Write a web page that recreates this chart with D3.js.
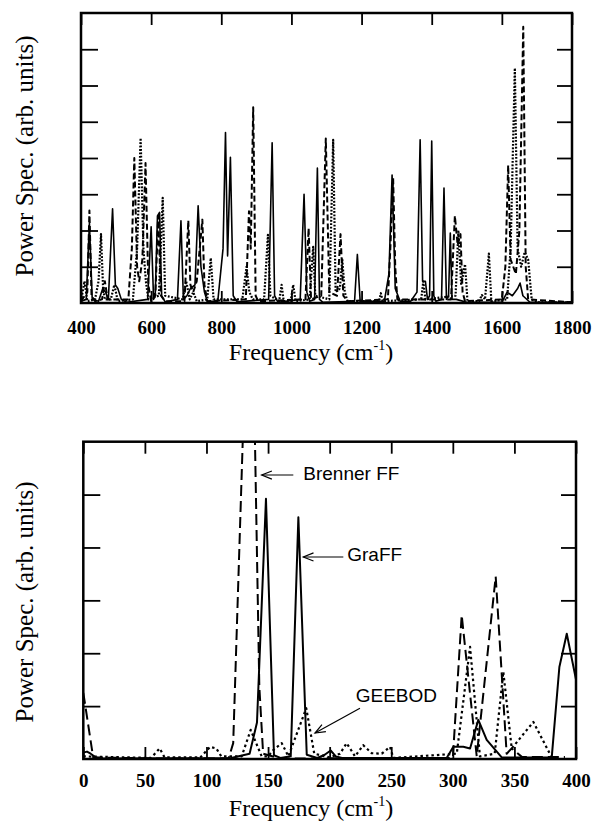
<!DOCTYPE html>
<html>
<head>
<meta charset="utf-8">
<script src="https://cdn.jsdelivr.net/npm/d3@7"></script>
<style>
  body { margin: 0; background: #fff; }
  svg { display: block; }
  .serif { font-family: "Liberation Serif", "Times New Roman", "DejaVu Serif", serif; }
  .sans { font-family: "Liberation Sans", Arial, sans-serif; }
</style>
</head>
<body>
<svg id="chart"></svg>
<script>
// ---- top panel: 400-1800 cm-1, three spectra as [frequency, power] ----
const topSolid = [[400,0.05],[415,0.1],[424,2.2],[432,0.1],[450,0.05],[462,0.4],[470,0.3],[478,0.1],[490,2.6],[498,0.5],[505,0.4],[515,0.1],[530,0.02],[590,0.1],[600,2.1],[607,0.1],[612,0.3],[618,2.4],[624,2.5],[630,0.2],[640,0.03],[675,0.1],[685,2.27],[692,0.1],[702,0.2],[712,0.4],[725,0.5],[734,2.68],[742,1.0],[752,0.3],[760,0.05],[790,0.05],[805,1.5],[812,4.7],[818,1.3],[826,4.02],[834,0.2],[845,0.03],[935,0.1],[945,4.42],[952,0.2],[962,0.02],[1025,0.1],[1036,3.0],[1044,0.3],[1052,0.05],[1066,0.1],[1074,3.72],[1080,0.1],[1090,0.02],[1180,0.05],[1188,1.34],[1196,0.05],[1265,0.05],[1278,0.8],[1287,3.53],[1296,0.4],[1310,0.05],[1340,0.05],[1358,0.3],[1367,4.5],[1374,0.6],[1382,0.6],[1388,0.1],[1394,0.2],[1400,4.47],[1406,0.2],[1412,0.05],[1428,0.1],[1435,3.17],[1442,0.1],[1448,0.2],[1453,1.93],[1458,0.1],[1470,0.1],[1500,0.02],[1600,0.02],[1615,0.3],[1630,0.2],[1645,0.4],[1652,0.55],[1660,0.2],[1680,0.02],[1800,0.02]];
const topDashed = [[400,0.05],[418,0.3],[424,2.55],[430,0.2],[440,0.05],[460,0.1],[468,0.6],[476,0.1],[535,0.1],[545,1.5],[552,4.0],[560,1.0],[566,0.6],[575,1.2],[584,3.86],[592,0.5],[600,0.05],[612,0.2],[620,2.4],[628,0.2],[640,0.05],[695,0.05],[706,2.27],[712,0.5],[720,0.3],[730,0.6],[746,2.3],[752,0.5],[760,0.05],[870,0.1],[879,2.53],[884,1.5],[891,5.4],[898,0.2],[905,0.05],[1040,0.1],[1049,2.06],[1056,0.1],[1085,0.2],[1098,4.54],[1108,0.3],[1130,0.2],[1140,1.9],[1148,0.2],[1160,0.05],[1275,0.1],[1282,1.5],[1290,3.44],[1296,1.0],[1302,0.1],[1455,0.1],[1466,2.4],[1474,1.6],[1482,1.9],[1488,0.3],[1495,0.05],[1600,0.1],[1610,1.0],[1618,3.8],[1625,1.2],[1640,0.8],[1650,2.0],[1661,7.62],[1668,1.0],[1675,0.1],[1800,0.02]];
const topDotted = [[400,0.05],[410,0.6],[418,0.05],[440,0.1],[450,0.6],[457,1.9],[463,0.4],[468,0.1],[485,0.1],[495,0.5],[505,0.05],[548,0.1],[560,1.5],[570,4.55],[578,1.5],[585,0.6],[592,0.1],[622,0.2],[633,2.9],[640,0.2],[690,0.1],[700,0.6],[710,0.1],[720,0.3],[730,0.05],[760,0.1],[770,1.24],[778,0.1],[860,0.1],[872,1.0],[880,0.3],[890,0.1],[922,0.1],[933,1.88],[940,0.2],[965,0.05],[972,0.5],[978,0.05],[998,0.05],[1005,0.5],[1012,0.05],[1052,0.1],[1062,1.55],[1068,0.2],[1108,0.1],[1119,4.5],[1126,0.3],[1138,0.4],[1145,1.2],[1152,0.3],[1160,0.05],[1250,0.05],[1255,0.27],[1260,0.05],[1370,0.1],[1376,0.59],[1382,0.1],[1468,0.2],[1476,2.0],[1484,0.5],[1495,1.07],[1502,0.05],[1535,0.05],[1543,0.22],[1552,0.1],[1563,1.36],[1570,0.05],[1615,0.1],[1625,1.5],[1637,6.48],[1645,1.5],[1655,1.0],[1665,1.4],[1675,1.2],[1685,0.1],[1700,0.02],[1800,0.02]];
const topXTicks = [400, 600, 800, 1000, 1200, 1400, 1600, 1800];

// ---- bottom panel: 0-400 cm-1 ----
const graffSolid = [[0,0.12],[3,0.14],[6,0.1],[10,0.03],[15,0.01],[120,0.02],[135,0.1],[141,0.69],[148.3,4.92],[154.8,0.07],[160,0.02],[168.4,0.05],[174.6,4.57],[181.4,0.08],[190,0.02],[196,0.08],[200.8,0.16],[205,0.05],[210,0.02],[295,0.02],[300.4,0.23],[308.5,0.23],[314,0.2],[320.7,0.74],[327.5,0.36],[339.7,0.03],[380.3,0.03],[386.5,1.74],[392.5,2.37],[400,1.5]];
const brennerDashed = [[0,1.25],[2,0.95],[8,0.03],[60,0.01],[118,0.01],[121.7,0.3],[135.8,10.7],[142.9,1.37],[146,0.1],[160,0.01],[300,0.02],[307.2,2.72],[319.4,0.05],[334.8,3.45],[343.7,0.1],[347.8,0.2],[356,0.04],[391,0.04]];
const geebodDotted = [[0,0.05],[55,0.02],[62,0.2],[66,0.03],[95,0.03],[103,0.23],[108,0.2],[112,0.05],[128.6,0.05],[135.9,0.55],[144.8,0.05],[150,0.05],[154.3,0.17],[161.1,0.3],[166.5,0.05],[181,0.96],[187.5,0.1],[200,0.03],[208.4,0.1],[213.8,0.3],[220.6,0.05],[227.3,0.26],[234.1,0.11],[242.3,0.1],[249,0.23],[251.7,0.02],[303.2,0.1],[314,2.12],[322,0.05],[334,0.1],[341,1.65],[347.8,0.2],[365.4,0.7],[380.3,0.03]];
const botXTicks = [0, 50, 100, 150, 200, 250, 300, 350, 400];

// annotations: label, text anchor point, arrow tail and tip (data units)
const notes = [
  {text: "Brenner FF", tx: 178.6, ty: 5.27, from: [170.5, 5.37], to: [144.8, 5.37]},
  {text: "GraFF", tx: 214.3, ty: 3.74, from: [211.1, 3.82], to: [178.6, 3.82]},
  {text: "GEEBOD", tx: 221.2, ty: 1.08, from: [224.6, 0.96], to: [188.1, 0.49]}
];

const width = 594, height = 824;
const svg = d3.select("#chart").attr("width", width).attr("height", height);

function drawPanel(o) {
  const x = d3.scaleLinear(o.xDomain, o.xRange);
  const y = d3.scaleLinear(o.yDomain, o.yRange);
  const g = svg.append("g");

  g.append("clipPath").attr("id", o.id + "-clip")
    .append("rect")
      .attr("x", o.xRange[0]).attr("y", o.yRange[1])
      .attr("width", o.xRange[1] - o.xRange[0])
      .attr("height", o.yRange[0] - o.yRange[1]);

  const line = d3.line().x(d => x(d[0])).y(d => y(d[1]));

  g.append("g")
      .attr("clip-path", `url(#${o.id}-clip)`)
    .selectAll("path")
    .data(o.series)
    .join("path")
      .attr("fill", "none")
      .attr("stroke", "#000")
      .attr("stroke-width", d => d.w)
      .attr("stroke-dasharray", d => d.dash)
      .attr("stroke-linejoin", "round")
      .attr("d", d => line(d.values));

  const yTicks = d3.range(1, o.yDomain[1]);
  const fixTicks = s => s.call(a => a.select(".domain").remove())
      .call(a => a.selectAll(".tick line").attr("stroke-width", 1.8));

  g.append("g")
      .attr("transform", `translate(${o.xRange[0]},0)`)
      .call(d3.axisLeft(y).tickValues(yTicks).tickSize(-17).tickFormat(""))
      .call(fixTicks);
  g.append("g")
      .attr("transform", `translate(${o.xRange[1]},0)`)
      .call(d3.axisRight(y).tickValues(yTicks).tickSize(-15).tickFormat(""))
      .call(fixTicks);
  g.append("g")
      .attr("transform", `translate(0,${o.yRange[1]})`)
      .call(d3.axisTop(x).tickValues(o.xTicks).tickSize(-12).tickFormat(""))
      .call(fixTicks);
  g.append("g")
      .attr("transform", `translate(0,${o.yRange[0]})`)
      .call(d3.axisBottom(x).tickValues(o.xTicks).tickSize(-12).tickPadding(o.pad).tickFormat(d3.format("d")))
      .call(fixTicks)
      .attr("font-family", "Liberation Serif")
      .attr("font-size", 19)
      .attr("font-weight", "bold")
      .call(a => a.selectAll("text").attr("fill", "#000"));

  // frame
  g.append("rect")
      .attr("x", o.xRange[0]).attr("y", o.yRange[1])
      .attr("width", o.xRange[1] - o.xRange[0])
      .attr("height", o.yRange[0] - o.yRange[1])
      .attr("fill", "none")
      .attr("stroke", "#000")
      .attr("stroke-width", 2.5);

  // x title
  const t = g.append("text")
      .attr("x", 311).attr("y", o.titleY)
      .attr("text-anchor", "middle")
      .attr("font-family", "Liberation Serif")
      .attr("font-size", 24);
  t.append("tspan").text("Frequency (cm");
  t.append("tspan").attr("font-size", 14).attr("dy", -10).text("-1");
  t.append("tspan").attr("dy", 10).text(")");

  // y title
  g.append("text")
      .attr("transform", `translate(33,${o.yLabelY}) rotate(-90)`)
      .attr("text-anchor", "middle")
      .attr("font-family", "Liberation Serif")
      .attr("font-size", 25)
      .text("Power Spec. (arb. units)");

  return {x, y, g};
}

drawPanel({
  id: "top", xDomain: [400, 1800], xRange: [81, 572],
  yDomain: [0, 8], yRange: [303, 13], xTicks: topXTicks, pad: 17.5,
  titleY: 360, yLabelY: 156,
  series: [
    {values: topDotted, w: 2.2, dash: "1.8,1.6"},
    {values: topDashed, w: 2, dash: "6,3"},
    {values: topSolid, w: 1.6, dash: null}
  ]
});

const bot = drawPanel({
  id: "bot", xDomain: [0, 400], xRange: [83.3, 576],
  yDomain: [0, 6], yRange: [759, 441.7], xTicks: botXTicks, pad: 14.5,
  titleY: 816, yLabelY: 602,
  series: [
    {values: geebodDotted, w: 2.2, dash: "2.5,3"},
    {values: brennerDashed, w: 2, dash: "11,5"},
    {values: graffSolid, w: 2, dash: null}
  ]
});

// annotation arrows and labels
const ax = bot.x, ay = bot.y;
const ann = bot.g.append("g");
notes.forEach(n => {
  const x1 = ax(n.from[0]), y1 = ay(n.from[1]);
  const x2 = ax(n.to[0]), y2 = ay(n.to[1]);
  const ang = Math.atan2(y2 - y1, x2 - x1);
  const len = 11, spread = 0.38;
  ann.append("line")
      .attr("x1", x1).attr("y1", y1).attr("x2", x2).attr("y2", y2)
      .attr("stroke", "#000").attr("stroke-width", 1.2);
  ann.append("path")
      .attr("d", `M${x2 - len * Math.cos(ang - spread)},${y2 - len * Math.sin(ang - spread)}L${x2},${y2}L${x2 - len * Math.cos(ang + spread)},${y2 - len * Math.sin(ang + spread)}`)
      .attr("fill", "none").attr("stroke", "#000").attr("stroke-width", 1.2);
  ann.append("text")
      .attr("x", ax(n.tx)).attr("y", ay(n.ty))
      .attr("font-family", "Liberation Sans")
      .attr("font-size", 19)
      .text(n.text);
});
</script>
</body>
</html>
